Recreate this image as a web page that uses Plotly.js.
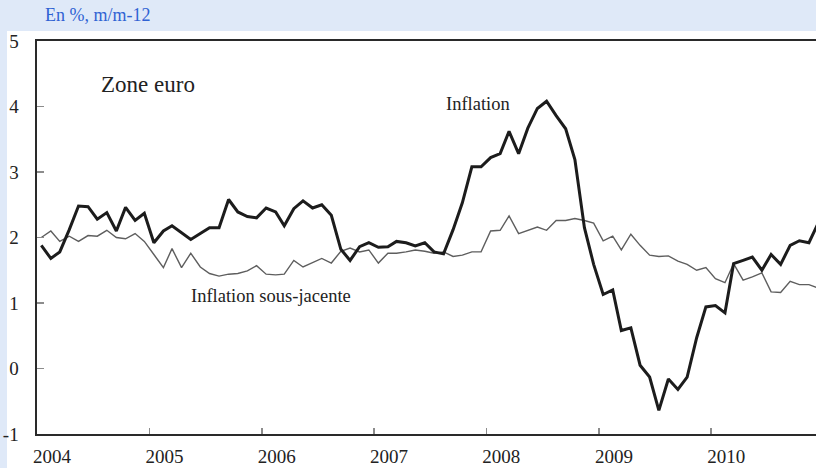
<!DOCTYPE html>
<html>
<head>
<meta charset="utf-8">
<script src="https://cdn.plot.ly/plotly-3.0.1.min.js"></script>
<style>
  html, body { margin: 0; padding: 0; background: #dfe9f8; }
  #chart { width: 816px; height: 468px; }
</style>
</head>
<body>
<div id="chart"></div>
<script>
// Monthly data, January 2004 to December 2010 (year-on-year, %)
const startYear = 2004;
const endYear = 2010;
const yearTicks = ['2004', '2005', '2006', '2007', '2008', '2009', '2010'];

const inflation = [
  1.88, 1.68, 1.78, 2.12, 2.48, 2.47, 2.28, 2.38, 2.10, 2.46, 2.26, 2.37,
  1.92, 2.10, 2.18, 2.08, 1.97, 2.06, 2.15, 2.15, 2.58, 2.39, 2.32, 2.30,
  2.45, 2.39, 2.18, 2.44, 2.56, 2.45, 2.50, 2.34, 1.82, 1.65, 1.86, 1.92,
  1.85, 1.86, 1.94, 1.92, 1.87, 1.92, 1.78, 1.75, 2.12, 2.53, 3.08, 3.08,
  3.22, 3.28, 3.62, 3.28, 3.67, 3.97, 4.08, 3.86, 3.66, 3.19, 2.15, 1.59,
  1.13, 1.20, 0.58, 0.62, 0.05, -0.13, -0.64, -0.16, -0.32, -0.13, 0.47, 0.94,
  0.96, 0.85, 1.60, 1.65, 1.70, 1.50, 1.74, 1.59, 1.88, 1.95, 1.92, 2.22
];

const inflationSousJacente = [
  2.00, 2.10, 1.94, 2.02, 1.94, 2.03, 2.02, 2.11, 2.00, 1.98, 2.06, 1.94,
  1.74, 1.54, 1.83, 1.54, 1.76, 1.55, 1.45, 1.41, 1.44, 1.45, 1.49, 1.57,
  1.44, 1.43, 1.44, 1.65, 1.55, 1.61, 1.68, 1.61, 1.79, 1.84, 1.78, 1.81,
  1.61, 1.76, 1.76, 1.78, 1.81, 1.79, 1.76, 1.78, 1.71, 1.73, 1.78, 1.78,
  2.10, 2.11, 2.33, 2.06, 2.11, 2.16, 2.11, 2.26, 2.26, 2.29, 2.26, 2.22,
  1.95, 2.02, 1.81, 2.05, 1.88, 1.73, 1.71, 1.72, 1.64, 1.59, 1.50, 1.54,
  1.37, 1.31, 1.60, 1.35, 1.40, 1.46, 1.17, 1.16, 1.33, 1.28, 1.28, 1.23
];

// mid-month dates
const months = [];
for (let y = startYear; y <= endYear; y++) {
  for (let m = 1; m <= 12; m++) {
    months.push(y + '-' + String(m).padStart(2, '0') + '-15');
  }
}

const serif = 'Liberation Serif, Times New Roman, serif';

const traces = [
  {
    x: months, y: inflationSousJacente, type: 'scatter', mode: 'lines',
    name: 'Inflation sous-jacente',
    line: { color: '#5e5e5e', width: 1.4 },
    hoverinfo: 'x+y'
  },
  {
    x: months, y: inflation, type: 'scatter', mode: 'lines',
    name: 'Inflation',
    line: { color: '#1c1c1c', width: 3 },
    hoverinfo: 'x+y'
  }
];

const layout = {
  width: 816, height: 468,
  margin: { l: 37, r: 0, t: 41, b: 34 },
  paper_bgcolor: '#dfe9f8',
  plot_bgcolor: '#ffffff',
  showlegend: false,
  font: { family: serif, size: 18, color: '#222222' },
  xaxis: {
    type: 'date',
    range: ['2004-01-01', '2010-12-08'],
    tickvals: yearTicks.map(y => y + '-01-01'),
    ticktext: yearTicks,
    ticks: 'inside', ticklen: 6, tickwidth: 1.5, tickcolor: '#8c8c8c',
    showline: true, linecolor: '#2a2a2a', linewidth: 2, mirror: true,
    showgrid: false, zeroline: false,
    ticklabelshift: 15, ticklabelstandoff: 4,
    tickfont: { family: serif, size: 19, color: '#222222' }
  },
  yaxis: {
    range: [-1, 5],
    tickvals: [-1, 0, 1, 2, 3, 4, 5],
    ticktext: ['-1', '0', '1', '2', '3', '4', '5'],
    ticks: 'inside', ticklen: 7, tickwidth: 1.5, tickcolor: '#8c8c8c',
    showline: true, linecolor: '#2a2a2a', linewidth: 2.5,
    showgrid: false, zeroline: false,
    ticklabelstandoff: 12,
    tickfont: { family: serif, size: 19, color: '#222222' }
  },
  shapes: [
    {
      type: 'rect', xref: 'paper', yref: 'paper', layer: 'below',
      x0: (7 - 37) / 779, x1: 1.05, y0: -0.1, y1: (434 - 31) / 393,
      fillcolor: '#ffffff', line: { width: 0 }
    }
  ],
  annotations: [
    {
      text: 'En %, m/m-12', xref: 'paper', yref: 'paper',
      x: (43 - 37) / 779, y: (434 - 15.5) / 393, xanchor: 'left', yanchor: 'middle',
      showarrow: false, font: { family: serif, size: 18, color: '#2f62d3' }
    },
    {
      text: 'Zone euro', x: '2004-12-27', y: 4.33, xref: 'x', yref: 'y',
      showarrow: false, font: { family: serif, size: 23, color: '#222222' }
    },
    {
      text: 'Inflation', x: '2007-12-04', y: 4.04, xref: 'x', yref: 'y',
      showarrow: false, font: { family: serif, size: 18.5, color: '#222222' }
    },
    {
      text: 'Inflation sous-jacente', x: '2006-01-31', y: 1.10, xref: 'x', yref: 'y',
      showarrow: false, font: { family: serif, size: 18.5, color: '#222222' }
    }
  ]
};

Plotly.newPlot('chart', traces, layout, { displayModeBar: false, staticPlot: true });
</script>
</body>
</html>
